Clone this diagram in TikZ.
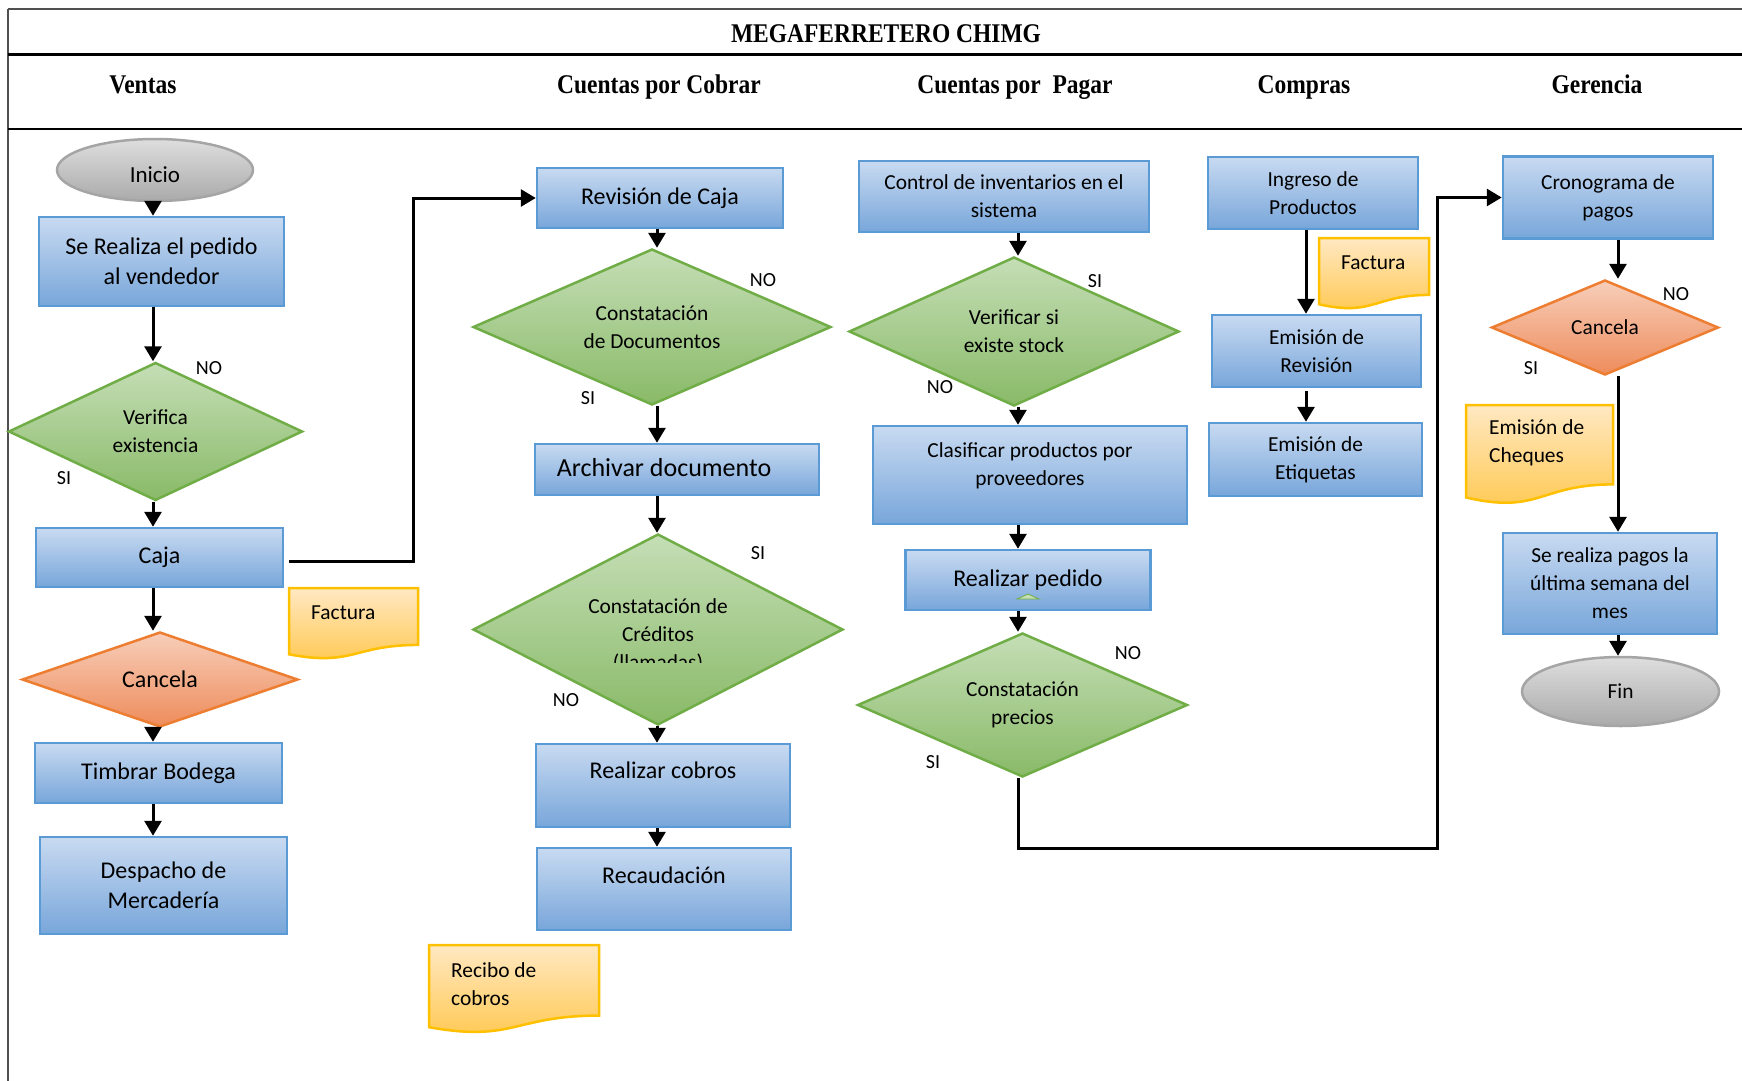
\documentclass[tikz,border=0pt]{standalone}
\usepackage{fontspec}
\setmainfont{Carlito}
\newfontfamily\hdfont[FakeStretch=0.87]{Liberation Serif}
\usetikzlibrary{shapes.geometric,arrows.meta}

\definecolor{boxTop}{RGB}{200,218,241}
\definecolor{boxBot}{RGB}{120,166,218}
\definecolor{boxLine}{RGB}{91,155,213}
\definecolor{greenTop}{RGB}{197,222,182}
\definecolor{greenBot}{RGB}{137,186,104}
\definecolor{greenLine}{RGB}{112,173,71}
\definecolor{orTop}{RGB}{247,206,186}
\definecolor{orBot}{RGB}{238,140,91}
\definecolor{orLine}{RGB}{237,125,49}
\definecolor{grayTop}{RGB}{222,222,222}
\definecolor{grayBot}{RGB}{170,170,170}
\definecolor{grayLine}{RGB}{165,165,165}
\definecolor{docTop}{RGB}{255,232,194}
\definecolor{docBot}{RGB}{255,199,77}
\definecolor{docLine}{RGB}{255,192,0}
\definecolor{frameGray}{RGB}{80,80,80}

\newcommand\szBig{\fontsize{24}{30}\selectfont}
\newcommand\szArch{\fontsize{26}{30}\selectfont}
\newcommand\szSmall{\fontsize{21.4}{28}\selectfont}
\newcommand\szLab{\fontsize{20}{24}\selectfont}
\newcommand\szHead{\hdfont\bfseries\fontsize{27}{32}\selectfont}

% document symbol with a wavy lower edge: x0, y0, width, height
\newcommand\docshape[4]{%
  \pgfmathsetmacro\dsR{#1+#3}%
  \pgfmathsetmacro\dsYr{#2+0.802*#4}%
  \pgfmathsetmacro\dsCx{#1+0.5*#3}%
  \pgfmathsetmacro\dsCy{#2+1.1075*#4}%
  \pgfmathsetmacro\dsYl{#2+0.934*#4}%
  \draw[docbox] (#1,#2) -- (\dsR,#2) -- (\dsR,\dsYr)
    .. controls (\dsCx,\dsYr) and (\dsCx,\dsCy) .. (#1,\dsYl) -- cycle;}

\tikzset{
  box/.style={rectangle, draw=boxLine, line width=2.5pt, top color=boxTop,
    bottom color=boxBot, align=center, inner sep=0pt, font=\szBig},
  sbox/.style={box, font=\szSmall},
  dec/.style={diamond, draw=greenLine, line width=2.5pt, top color=greenTop,
    bottom color=greenBot, align=center, inner sep=0pt, font=\szSmall},
  decor/.style={diamond, draw=orLine, line width=2.5pt, top color=orTop,
    bottom color=orBot, align=center, inner sep=0pt, font=\szBig},
  term/.style={ellipse, draw=grayLine, line width=2.5pt, top color=grayTop,
    bottom color=grayBot, inner sep=0pt, font=\szSmall},
  docbox/.style={draw=docLine, line width=2.5pt, top color=docTop, bottom color=docBot},
  doctext/.style={font=\szSmall, align=left, inner sep=0pt, anchor=west},
  txt/.style={align=center, inner sep=0pt},
  flow/.style={line width=3pt, -{Triangle[length=15pt,width=17pt]}},
  lbl/.style={font=\szLab, inner sep=0pt},
  hd/.style={font=\szHead, inner sep=0pt, anchor=base},
}

\begin{document}
\begin{tikzpicture}[x=1pt,y=-1pt]
\useasboundingbox[fill=white] (0,0) rectangle (1742,1081);

% frame of the swimlane table
\draw[frameGray, line width=1.6pt] (8,9) -- (1742,9);
\draw[frameGray, line width=1.6pt] (8,9) -- (8,1081);
\draw[black, line width=3pt] (8,55) -- (1742,55);
\draw[black, line width=1.6pt] (8,129) -- (1742,129);

\node[hd] (title) at (886,43) {MEGAFERRETERO CHIMG};
\node[hd] (hVentas) at (143,93) {Ventas};
\node[hd] (hCobrar) at (659,93) {Cuentas por Cobrar};
\node[hd] (hPagar) at (1015,93) {Cuentas por~ Pagar};
\node[hd] (hCompras) at (1304,93) {Compras};
\node[hd] (hGerencia) at (1597,93) {Gerencia};

% ---------------- Ventas
\node[term, minimum width=196pt, minimum height=62pt] (inicio) at (155,170) {};
\begin{scope}
  \clip (80,150) rectangle (230,182.5);
  \node[txt, font=\fontsize{23}{28}\selectfont] (inicioT) at (155,175) {Inicio};
\end{scope}
\node[box, minimum width=245pt, minimum height=89pt] (pedido) at (161.5,261.5) {Se Realiza el pedido\\al vendedor};
\node[dec, aspect=2.13, minimum width=294pt, minimum height=138pt] (verifica) at (155.5,431.5) {Verifica\\existencia};
\node[box, minimum width=247pt, minimum height=59pt] (caja) at (159.5,557.5) {Caja};
\node[decor, aspect=2.9, minimum width=276pt, minimum height=95pt] (cancelaV) at (160,679.5) {Cancela};
\node[box, minimum width=247pt, minimum height=60pt] (timbrar) at (158.5,773) {Timbrar Bodega};
\node[box, minimum width=247pt, minimum height=97pt] (despacho) at (163.5,885.5) {Despacho de\\Mercadería};

\docshape{289}{588}{129}{71}
\node[doctext] (factV) at (311,613) {Factura};

\node[lbl] (noV) at (209,368) {NO};
\node[lbl] (siV) at (64,478) {SI};

\coordinate (xV) at (153,0);
\draw[flow] (inicio.south -| xV) -- (pedido.north -| xV);
\draw[flow] (pedido.south -| xV) -- (verifica.north -| xV);
\draw[flow] (verifica.south -| xV) -- (caja.north -| xV);
\draw[flow] (caja.south -| xV) -- (cancelaV.north -| xV);
\draw[flow] (cancelaV.south -| xV) -- (timbrar.north -| xV);
\draw[flow] (timbrar.south -| xV) -- (despacho.north -| xV);

% ---------------- Cuentas por Cobrar
\node[box, minimum width=246pt, minimum height=60pt] (revcaja) at (660,198) {Revisión de Caja};
\node[dec, aspect=2.29, minimum width=358pt, minimum height=156pt] (constdoc) at (652,327) {Constatación\\de Documentos};
\node[box, minimum width=284pt, minimum height=51pt] (archivar) at (677,469.5) {};
\node[txt, font=\szArch] (archivarT) at (664,468) {Archivar documento};
\node[dec, aspect=1.94, minimum width=370pt, minimum height=191pt] (constcred) at (658,629.5) {};
\begin{scope}
  \clip (500,580) rectangle (820,662);
  \node[txt, font=\szSmall] (constcredT) at (658,636) {Constatación de\\Créditos\\(llamadas)};
\end{scope}
\node[box, minimum width=254pt, minimum height=83pt] (cobros) at (663,785.5) {};
\node[txt, font=\szBig] (cobrosT) at (663,770) {Realizar cobros};
\node[box, minimum width=254pt, minimum height=82pt] (recaud) at (664,889) {};
\node[txt, font=\szBig] (recaudT) at (664,875) {Recaudación};

\docshape{429}{945}{170}{88}
\node[doctext] (recibo) at (451,984) {Recibo de\\cobros};

\node[lbl] (noD) at (763,280) {NO};
\node[lbl] (siD) at (588,398) {SI};
\node[lbl] (siC) at (758,553) {SI};
\node[lbl] (noC) at (566,700) {NO};

\coordinate (xC) at (657,0);
\draw[flow] (caja.east) ++(5,3.5) coordinate (cajaOut) -- (413,561) |- (revcaja.west);
\draw[flow] (revcaja.south -| xC) -- (constdoc.north -| xC);
\draw[flow] (constdoc.south -| xC) -- (archivar.north -| xC);
\draw[flow] (archivar.south -| xC) -- (constcred.north -| xC);
\draw[flow] (constcred.south -| xC) -- (cobros.north -| xC);
\draw[flow] (cobros.south -| xC) -- (recaud.north -| xC);

% ---------------- Cuentas por Pagar
\node[sbox, minimum width=290pt, minimum height=71pt] (control) at (1004,196.5) {Control de inventarios en el\\sistema};
\node[dec, aspect=2.21, minimum width=330pt, minimum height=149pt] (stock) at (1014,331.5) {Verificar si\\existe stock};
\node[sbox, minimum width=314pt, minimum height=98pt] (clasif) at (1030,475) {};
\node[txt, font=\szSmall] (clasifT) at (1030,466) {Clasificar productos por\\proveedores};
\node[box, minimum width=245pt, minimum height=60pt] (realped) at (1028,580) {Realizar pedido};
\draw[draw=greenLine, fill=greenTop, line width=0.8pt] (1017,599) -- (1028,594) -- (1039,599) -- cycle;
\node[dec, aspect=2.29, minimum width=330pt, minimum height=144pt] (precios) at (1022.5,705) {Constatación\\precios};

\node[lbl] (siS) at (1095,281) {SI};
\node[lbl] (noS) at (940,387) {NO};
\node[lbl] (noP) at (1128,653) {NO};
\node[lbl] (siP) at (933,762) {SI};

\coordinate (xP) at (1018,0);
\draw[flow] (control.south -| xP) -- (stock.north -| xP);
\draw[flow] (stock.south -| xP) -- (clasif.north -| xP);
\draw[flow] (clasif.south -| xP) -- (realped.north -| xP);
\draw[flow] (realped.south -| xP) -- (precios.north -| xP);

% ---------------- Compras
\node[sbox, minimum width=210pt, minimum height=72pt] (ingreso) at (1313,193) {Ingreso de\\Productos};
\docshape{1319}{238}{110}{71}
\node[doctext] (factC) at (1341,263) {Factura};
\node[sbox, minimum width=209pt, minimum height=72pt] (emrev) at (1316.5,351) {Emisión de\\Revisión};
\node[sbox, minimum width=213pt, minimum height=73pt] (emetiq) at (1315.5,459.5) {Emisión de\\Etiquetas};

\coordinate (xM) at (1306,0);
\draw[flow] (ingreso.south -| xM) -- (emrev.north -| xM);
\draw[flow] ([yshift=-3pt]emrev.south -| xM) -- (emetiq.north -| xM);

% ---------------- Gerencia
\node[sbox, minimum width=210pt, minimum height=82pt] (crono) at (1608,197.5) {Cronograma de\\pagos};
\node[decor, aspect=2.39, minimum width=227pt, minimum height=95pt, font=\szSmall] (cancelaG) at (1605,327.5) {Cancela};
\docshape{1466}{405}{147}{99}
\node[doctext] (cheques) at (1489,443) {Emisión de\\Cheques};
\node[sbox, minimum width=214pt, minimum height=101pt] (pagos) at (1610,583.5) {Se realiza pagos la\\última semana del\\mes};
\node[term, minimum width=197pt, minimum height=69pt] (fin) at (1620.5,691.5) {Fin};

\node[lbl] (noG) at (1676,294) {NO};
\node[lbl] (siG) at (1531,368) {SI};

\coordinate (xG) at (1618,0);
\draw[flow] (crono.south -| xG) -- (cancelaG.north -| xG);
\draw[flow] (cancelaG.south -| xG) -- (pagos.north -| xG);
\draw[flow] (pagos.south -| xG) -- (fin.north -| xG);

% price check leads to the payment schedule
\draw[flow] (precios.south -| xP) -- (1018,848) -- (1437,848) |- (crono.west);

\end{tikzpicture}
\end{document}
